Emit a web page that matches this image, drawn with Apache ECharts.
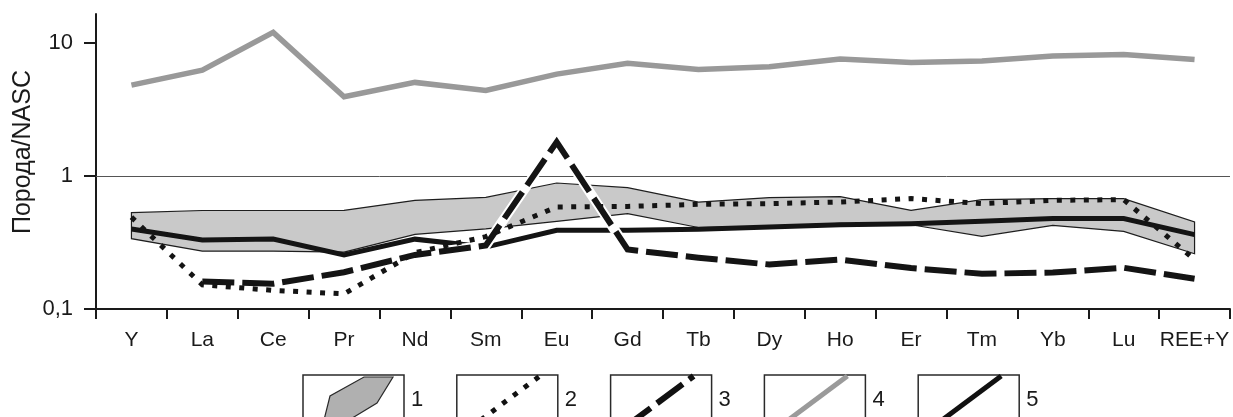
<!DOCTYPE html>
<html>
<head>
<meta charset="utf-8">
<script src="https://cdn.jsdelivr.net/npm/echarts@6/dist/echarts.min.js"></script>
<style>
  html, body { margin: 0; padding: 0; background: #fff; }
  #chart { width: 1233px; height: 417px; }
</style>
</head>
<body>
<div id="chart"></div>
<script>
// REE spectra normalised to NASC
const categories = ['Y', 'La', 'Ce', 'Pr', 'Nd', 'Sm', 'Eu', 'Gd', 'Tb', 'Dy', 'Ho', 'Er', 'Tm', 'Yb', 'Lu', 'REE+Y'];

// 1 — field of compositions (upper and lower bounds)
const fieldUpper = [0.53, 0.55, 0.55, 0.552, 0.656, 0.69, 0.885, 0.817, 0.637, 0.688, 0.70, 0.552, 0.664, 0.676, 0.676, 0.451];
const fieldLower = [0.338, 0.272, 0.272, 0.268, 0.364, 0.40, 0.455, 0.521, 0.41, 0.418, 0.44, 0.43, 0.352, 0.425, 0.383, 0.26];
// 2 — dotted
const series2 = [0.49, 0.152, 0.138, 0.13, 0.265, 0.35, 0.585, 0.59, 0.612, 0.62, 0.637, 0.676, 0.62, 0.656, 0.664, 0.235];
// 3 — dashed
const series3 = [null, 0.161, 0.155, 0.189, 0.255, 0.30, 1.80, 0.28, 0.243, 0.216, 0.235, 0.203, 0.184, 0.188, 0.204, 0.169];
// 4 — grey
const series4 = [4.82, 6.25, 12.0, 3.94, 5.05, 4.4, 5.83, 7.02, 6.32, 6.62, 7.57, 7.14, 7.31, 7.96, 8.2, 7.52];
// 5 — solid black
const series5 = [0.40, 0.33, 0.336, 0.255, 0.335, 0.292, 0.39, 0.39, 0.397, 0.413, 0.43, 0.438, 0.456, 0.478, 0.478, 0.362];

const yTicks = [0.1, 1, 10];
const yTitle = 'Порода/NASC';
const legendLabels = ['1', '2', '3', '4', '5'];

const FONT = 'Liberation Sans, Arial, sans-serif';
const INK = '#1a1a1a';

const chart = echarts.init(document.getElementById('chart'), null, { renderer: 'canvas' });

function lineSeries(data, style, z) {
  return {
    type: 'line',
    data: data,
    showSymbol: false,
    symbol: 'none',
    silent: true,
    animation: false,
    connectNulls: false,
    z: z,
    lineStyle: Object.assign({ cap: 'butt', join: 'miter' }, style)
  };
}

// legend boxes drawn as graphics
const graphics = [{
  type: 'text', x: 23, y: 152, rotation: Math.PI / 2,
  style: { text: yTitle, font: '25px ' + FONT, fill: INK, textAlign: 'center', textVerticalAlign: 'middle' }
}];
const boxLeft = 303, boxStep = 153.8, boxTop = 375, boxW = 101;
legendLabels.forEach(function (lab, i) {
  const x0 = boxLeft + boxStep * i;
  graphics.push({
    type: 'rect', shape: { x: x0, y: boxTop, width: boxW, height: 60 },
    style: { fill: '#fff', stroke: '#2a2a2a', lineWidth: 1.5 }, z: 10
  });
  let icon;
  if (i === 0) {
    icon = {
      type: 'polygon',
      shape: { points: [[x0 + 61, boxTop + 2], [x0 + 90, boxTop + 2], [x0 + 74, boxTop + 28], [x0 + 46, boxTop + 45], [x0 + 21, boxTop + 45], [x0 + 27, boxTop + 21]] },
      style: { fill: '#b0b0b0', stroke: '#2a2a2a', lineWidth: 1.2 }
    };
  } else {
    const styles = [
      null,
      { stroke: '#111', lineWidth: 5, lineDash: [5, 8.5] },
      { stroke: '#111', lineWidth: 6, lineDash: [32, 8], lineDashOffset: 12 },
      { stroke: '#9a9a9a', lineWidth: 5 },
      { stroke: '#111', lineWidth: 5 }
    ];
    icon = {
      type: 'line',
      shape: { x1: x0 + 24, y1: boxTop + 45, x2: x0 + 83, y2: boxTop + 1 },
      style: Object.assign({ lineCap: 'butt' }, styles[i])
    };
  }
  icon.z = 11;
  graphics.push(icon);
  graphics.push({
    type: 'text', x: x0 + boxW + 7, y: 400,
    style: { text: lab, font: '22px ' + FONT, fill: INK, textVerticalAlign: 'middle', textAlign: 'left' },
    z: 11
  });
});

const option = {
  animation: false,
  backgroundColor: '#fff',
  grid: { left: 96, right: 3, top: 14, bottom: 108, containLabel: false },
  xAxis: {
    type: 'category',
    data: categories,
    boundaryGap: true,
    axisLine: { lineStyle: { color: INK, width: 2 } },
    axisTick: { show: true, length: 10, lineStyle: { color: INK, width: 2 } },
    axisLabel: { fontSize: 21, fontFamily: FONT, color: INK, margin: 21, interval: 0 },
    splitLine: { show: false }
  },
  yAxis: {
    type: 'log',
    logBase: 10,
    min: 0.1,
    max: 16.5,
    axisLine: { show: true, lineStyle: { color: INK, width: 2 } },
    axisTick: { show: true, length: 12, customValues: yTicks, lineStyle: { color: INK, width: 2 } },
    axisLabel: {
      customValues: yTicks,
      fontSize: 22, fontFamily: FONT, color: INK, margin: 23,
      formatter: function (v) {
        if (Math.abs(v - 0.1) < 1e-9) return '0,1';
        return String(Math.round(v));
      }
    },
    splitLine: { show: false },
    minorTick: { show: false }
  },
  graphic: graphics,
  series: [
    {
      // 1 — field of compositions
      type: 'custom',
      coordinateSystem: 'cartesian2d',
      data: [[0, fieldUpper[0]]],
      silent: true,
      z: 1,
      renderItem: function (params, api) {
        const pts = [];
        for (let i = 0; i < categories.length; i++) pts.push(api.coord([i, fieldUpper[i]]));
        for (let i = categories.length - 1; i >= 0; i--) pts.push(api.coord([i, fieldLower[i]]));
        return {
          type: 'polygon',
          shape: { points: pts },
          style: { fill: '#c9c9c9', stroke: '#1e1e1e', lineWidth: 1.2 }
        };
      }
    },
    Object.assign(lineSeries(series4, { color: '#999999', width: 5.5 }, 3), {
      markLine: {
        silent: true, symbol: ['none', 'none'], animation: false,
        label: { show: false },
        lineStyle: { color: '#555', width: 1, type: 'solid' },
        data: [{ yAxis: 1 }]
      }
    }),
    lineSeries(series5, { color: '#141414', width: 5 }, 4),
    lineSeries(series3, { color: '#ffffff', width: 10 }, 5),
    lineSeries(series3, { color: '#141414', width: 6, type: [32, 8] }, 6),
    lineSeries(series2, { color: '#141414', width: 5, type: [5, 8.5] }, 7)
  ]
};

chart.setOption(option);
</script>
</body>
</html>
